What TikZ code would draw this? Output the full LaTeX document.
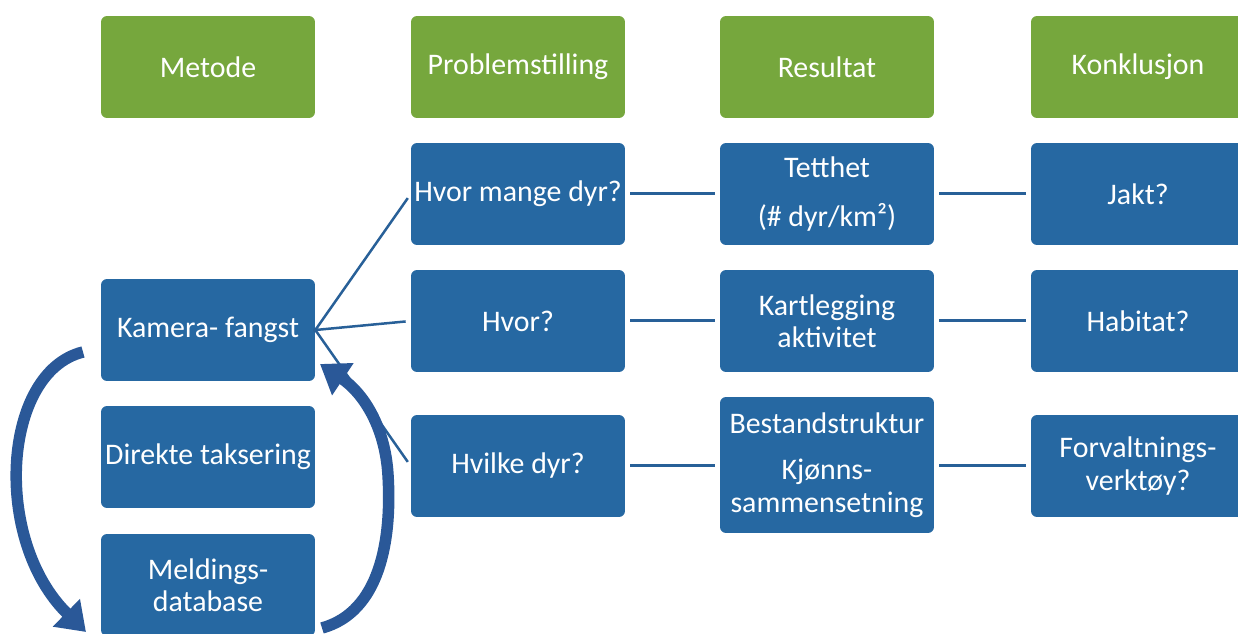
\documentclass[tikz,border=0pt]{standalone}
\usepackage{fontspec}
\setmainfont{Carlito}
\usepackage{tikz}
\usetikzlibrary{arrows}
\usetikzlibrary{arrows.meta}

\definecolor{hdrgreen}{RGB}{118,167,61}
\definecolor{boxblue}{RGB}{38,104,162}
\definecolor{lnkblue}{RGB}{40,96,152}
\definecolor{arrblue}{RGB}{42,88,152}

\begin{document}
\begin{tikzpicture}[x=0.02cm,y=-0.02cm]
  \tikzset{HDR/.style={fill=hdrgreen, rounded corners=0.12cm, minimum width=4.28cm, minimum height=2.04cm,
                       text=white, font=\fontsize{17}{18.5}\selectfont, align=center, inner sep=0pt} }
  \tikzset{BOX/.style={HDR, fill=boxblue} }
  \tikzset{LNK/.style={draw=lnkblue, line width=0.06cm, shorten >=0.1cm, shorten <=0.1cm} }
  \tikzset{BIGARR/.style={draw=arrblue, line width=0.23cm, -{Triangle[length=0.55cm,width=0.74cm]}} }

  \useasboundingbox (0,0) rectangle (1238,634);

  % headers
  \node[HDR] (hmet) at ( 208, 67) {Metode};
  \node[HDR] (hpro) at ( 518, 67) {Problemstilling};
  \node[HDR] (hres) at ( 827, 67) {Resultat};
  \node[HDR] (hkon) at (1138, 67) {Konklusjon};

  % metode
  \node[BOX] (kam) at (208,330) {Kamera- fangst};
  \node[BOX] (dir) at (208,457) {Direkte taksering};
  \node[BOX] (mel) at (208,585) {Meldings-\\database};

  % problemstilling
  \node[BOX] (pmange)  at (518,194) {Hvor mange dyr?};
  \node[BOX] (phvor)   at (518,321) {Hvor?};
  \node[BOX] (phvilke) at (518,466) {Hvilke dyr?};

  % resultat
  \node[BOX] (rtett) at (827,194) {Tetthet\\[9pt](\# dyr/km²)};
  \node[BOX] (rkart) at (827,321) {Kartlegging\\aktivitet};
  \node[BOX, minimum height=2.72cm] (rbest) at (827,465) {Bestandstruktur\\[8pt]Kjønns-\\sammensetning};

  % konklusjon
  \node[BOX] (kjakt) at (1138,194) {Jakt?};
  \node[BOX] (khab)  at (1138,321) {Habitat?};
  \node[BOX] (kforv) at (1138,466) {Forvaltnings-\\verktøy?};

  \draw[LNK, line width=0.05cm, shorten <=-0.04cm] (kam.east) -- (pmange.west);
  \draw[LNK, line width=0.05cm, shorten <=-0.04cm] (kam.east) -- (phvor.west);
  \draw[LNK, line width=0.05cm, shorten <=-0.04cm] (kam.east) -- (phvilke.west);

  \draw[LNK] (pmange.east)  -- (rtett.west);
  \draw[LNK] (phvor.east)   -- (rkart.west);
  \draw[LNK] (phvilke.east) -- (phvilke.east -| rbest.west);
  \draw[LNK] (rtett.east)   -- (kjakt.west);
  \draw[LNK] (rkart.east)   -- (khab.west);
  \draw[LNK] (rbest.east |- kforv.west) -- (kforv.west);

  % curved arrows
  \coordinate (l0) at (83,352);
  \coordinate (l1) at (86,632);
  \coordinate (r0) at (322,628);
  \coordinate (r1) at (320,364);
  \draw[BIGARR] (l0) .. controls (2,372) and (-8,540) .. (l1);
  \draw[BIGARR] (r0) .. controls (380,612) and (392,540) .. (388,475)
                     .. controls (385,425) and (362,392) .. (r1);
\end{tikzpicture}
\end{document}
